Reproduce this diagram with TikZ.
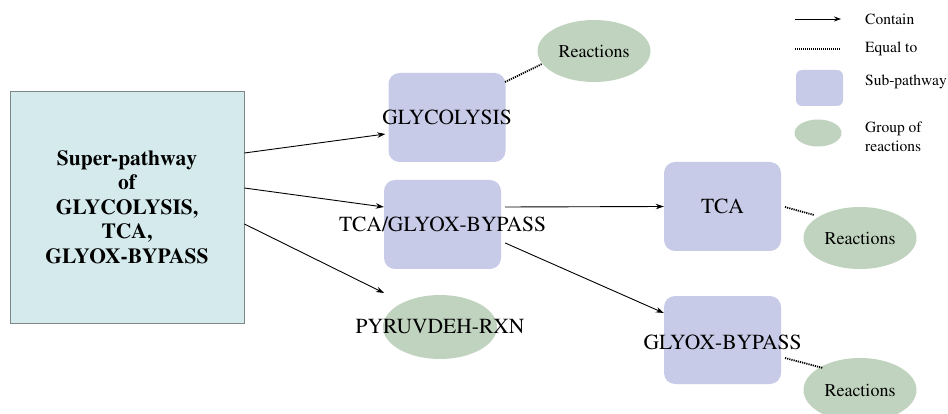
\documentclass[tikz,border=0pt]{standalone}
\usepackage[T1]{fontenc}
\renewcommand{\rmdefault}{ptm}
\usetikzlibrary{arrows.meta,shapes.geometric}
\definecolor{supfill}{RGB}{213,234,237}
\definecolor{supdraw}{RGB}{125,135,135}
\definecolor{subfill}{RGB}{199,203,231}
\definecolor{grpfill}{RGB}{192,211,190}
\tikzset{
  superbox/.style={draw=supdraw,line width=0.8pt,fill=supfill,minimum width=234pt,minimum height=232pt,inner sep=0pt,align=center,font=\fontsize{21.5}{24.5}\selectfont\bfseries},
  subbox/.style={fill=subfill,rounded corners=11pt,minimum width=117pt,minimum height=89pt,inner sep=0pt,font=\fontsize{21.5}{24}\selectfont},
  sublabel/.style={font=\fontsize{21.5}{24}\selectfont,inner sep=0pt},
  grp/.style={ellipse,fill=grpfill,minimum width=113pt,minimum height=62pt,inner sep=0pt,font=\fontsize{18}{21}\selectfont},
  contain/.style={line width=0.9pt,-{Stealth[length=8pt,width=5.5pt]}},
  equalto/.style={line width=1.8pt,dash pattern=on 1.2pt off 1pt},
  legtext/.style={anchor=west,inner sep=0pt,font=\fontsize{15.5}{19}\selectfont,align=left}
}
\begin{document}
\begin{tikzpicture}[x=1pt,y=-1pt]
\useasboundingbox (0,0) rectangle (948,414);
% main nodes
\node[superbox] (main) at (127,207) {Super-pathway\\of\\GLYCOLYSIS,\\TCA,\\GLYOX-BYPASS};
\node[subbox] (glyc) at (447,117.5) {};
\node[sublabel] (glycl) at (glyc.center) {GLYCOLYSIS};
\node[subbox] (tg) at (442.5,224.5) {};
\node[sublabel] (tgl) at (tg.center) {TCA/GLYOX-BYPASS};
\node[grp,minimum width=114pt,minimum height=64pt] (pyr) at (440,327) {};
\node[sublabel] (pyrl) at (pyr.center) {PYRUVDEH-RXN};
\node[subbox] (tca) at (722.5,206.5) {TCA};
\node[subbox,minimum height=88pt] (glyox) at (722.5,340) {};
\node[sublabel] (glyoxl) at ([shift={(0,2)}]glyox.center) {GLYOX-BYPASS};
\node[grp] (r1) at (594,51) {Reactions};
\node[grp] (r2) at (860,238) {Reactions};
\node[grp,minimum height=64pt] (r3) at (860,390) {Reactions};
% contain arrows
\draw[contain] ([shift={(0,-54)}]main.east) -- ([shift={(-3,16.5)}]glyc.west);
\draw[contain] ([shift={(0,-19)}]main.east) -- ([shift={(0,-17.5)}]tg.west);
\coordinate (pyrin) at ([shift={(-56,-34)}]pyr.center);
\draw[contain] ([shift={(0,17)}]main.east) -- (pyrin);
\draw[contain] ([shift={(4,-17.5)}]tg.east) -- (tca.west);
\draw[contain] ([shift={(4,18.5)}]tg.east) -- ([shift={(0,-27)}]glyox.west);
% equal-to links
\draw[equalto] ([shift={(58,-35.5)}]glyc.center) -- ([shift={(-52,13)}]r1.center);
\draw[equalto] ([shift={(62.5,0.5)}]tca.center) -- ([shift={(-46,-23)}]r2.center);
\draw[equalto] ([shift={(62.5,18)}]glyox.center) -- ([shift={(-37,-22)}]r3.center);
% legend
\coordinate (la1) at (795,19);
\coordinate (la2) at (841,19);
\draw[contain,line width=0.8pt,-{Stealth[length=7pt,width=5pt]}] (la1) -- (la2);
\node[legtext] (lt1) at (865,19) {Contain};
\coordinate (lb1) at (795,49);
\coordinate (lb2) at (841,49);
\draw[line width=1.5pt,dash pattern=on 1pt off 1pt] (lb1) -- (lb2);
\node[legtext] (lt2) at (865,49) {Equal to};
\node[fill=subfill,rounded corners=6pt,minimum width=47pt,minimum height=36pt,inner sep=0pt] (lrect) at (819.5,88) {};
\node[legtext] (lt3) at (865,82) {Sub-pathway};
\node[ellipse,fill=grpfill,minimum width=47pt,minimum height=27pt,inner sep=0pt] (lell) at (818,133) {};
\node[legtext] (lt4) at (865,136.5) {Group of\\reactions};
\end{tikzpicture}
\end{document}
